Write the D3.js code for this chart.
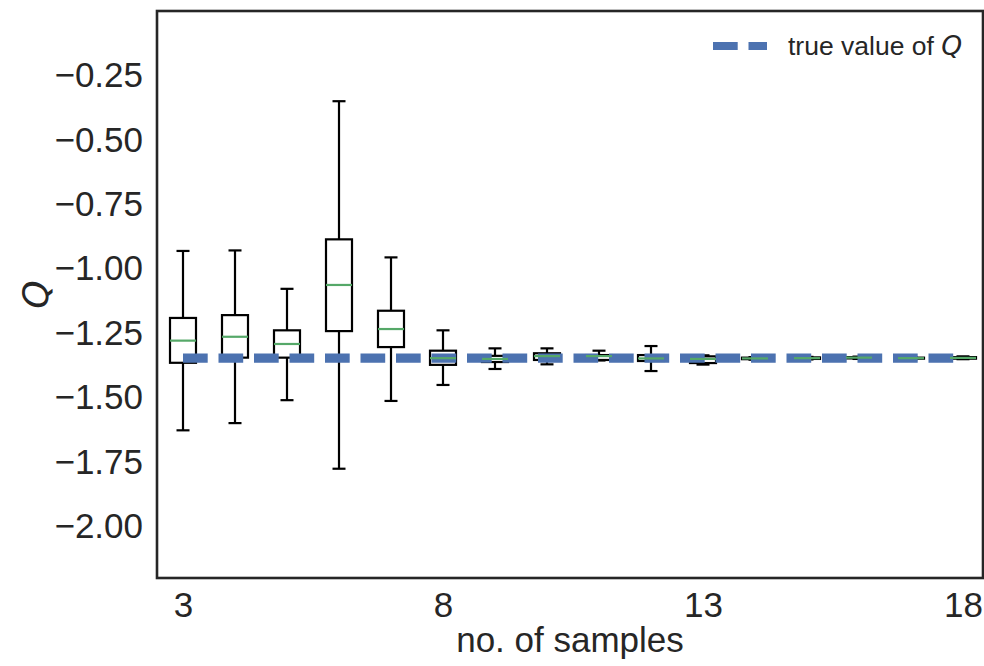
<!DOCTYPE html>
<html>
<head>
<meta charset="utf-8">
<script src="https://cdn.jsdelivr.net/npm/d3@7"></script>
<style>
  html, body { margin: 0; padding: 0; background: #ffffff; }
  svg { display: block; }
</style>
</head>
<body>
<svg id="chart" width="984" height="666"></svg>
<script>
// ---- data ----
const samples      = [3, 4, 5, 6, 7, 8, 9, 10, 11, 12, 13, 14, 15, 16, 17, 18];
const whiskerHigh  = [-0.931, -0.929, -1.078, -0.350, -0.956, -1.239, -1.309, -1.309, -1.318, -1.300, -1.336, -1.343, -1.342, -1.341, -1.343, -1.340];
const quartile3    = [-1.191, -1.180, -1.239, -0.886, -1.163, -1.318, -1.338, -1.328, -1.335, -1.335, -1.340, -1.345, -1.344, -1.343, -1.345, -1.343];
const medians      = [-1.279, -1.264, -1.292, -1.063, -1.234, -1.347, -1.350, -1.339, -1.339, -1.348, -1.350, -1.348, -1.347, -1.345, -1.347, -1.346];
const quartile1    = [-1.365, -1.345, -1.345, -1.242, -1.304, -1.373, -1.362, -1.354, -1.354, -1.358, -1.366, -1.351, -1.350, -1.348, -1.349, -1.349];
const whiskerLow   = [-1.627, -1.599, -1.510, -1.776, -1.513, -1.451, -1.389, -1.371, -1.356, -1.397, -1.372, -1.353, -1.352, -1.350, -1.351, -1.351];
const trueQ        = -1.347;
const trueLineX    = [3, 18];
const xTickValues  = [3, 8, 13, 18];
const yTickValues  = [-2.00, -1.75, -1.50, -1.25, -1.00, -0.75, -0.50, -0.25];
const xDomain      = [2.5, 18.5];
const yDomain      = [-2.2, 0];
const xLabel       = "no. of samples";
const yLabel       = "Q";
const legendLabel  = "true value of ";
const legendMath   = "Q";

// ---- layout ----
const svg = d3.select("#chart");
const plotLeft = 157, plotRight = 989, plotTop = 11, plotBottom = 578;
const frameRight = 983;

const x = d3.scaleLinear().domain(xDomain).range([plotLeft, plotRight]);
const y = d3.scaleLinear().domain(yDomain).range([plotBottom, plotTop]);

const textColor = "#262626";
const blue = "#4C72B0";
const green = "#55A868";
const tickFont = "'Liberation Sans', Arial, sans-serif";
const lw = 2.2;

const boxes = samples.map((s, i) => ({
  s, hi: whiskerHigh[i], q3: quartile3[i], med: medians[i], q1: quartile1[i], lo: whiskerLow[i]
}));

const boxHalf = 0.25;   // box width 0.5 units
const capHalf = 0.125;  // cap width 0.25 units

const g = svg.append("g");

// boxes (unfilled outlines)
g.selectAll("rect.box").data(boxes).enter().append("rect")
  .attr("class", "box")
  .attr("x", d => x(d.s - boxHalf))
  .attr("width", d => x(d.s + boxHalf) - x(d.s - boxHalf))
  .attr("y", d => y(d.q3))
  .attr("height", d => y(d.q1) - y(d.q3))
  .attr("fill", "none")
  .attr("stroke", "#000")
  .attr("stroke-width", lw);

// whiskers
g.selectAll("line.whiskHi").data(boxes).enter().append("line")
  .attr("x1", d => x(d.s)).attr("x2", d => x(d.s))
  .attr("y1", d => y(d.q3)).attr("y2", d => y(d.hi))
  .attr("stroke", "#000").attr("stroke-width", lw);
g.selectAll("line.whiskLo").data(boxes).enter().append("line")
  .attr("x1", d => x(d.s)).attr("x2", d => x(d.s))
  .attr("y1", d => y(d.q1)).attr("y2", d => y(d.lo))
  .attr("stroke", "#000").attr("stroke-width", lw);

// caps
g.selectAll("line.capHi").data(boxes).enter().append("line")
  .attr("x1", d => x(d.s - capHalf)).attr("x2", d => x(d.s + capHalf))
  .attr("y1", d => y(d.hi)).attr("y2", d => y(d.hi))
  .attr("stroke", "#000").attr("stroke-width", lw);
g.selectAll("line.capLo").data(boxes).enter().append("line")
  .attr("x1", d => x(d.s - capHalf)).attr("x2", d => x(d.s + capHalf))
  .attr("y1", d => y(d.lo)).attr("y2", d => y(d.lo))
  .attr("stroke", "#000").attr("stroke-width", lw);

// true value dashed line (above boxes, below medians)
g.append("line")
  .attr("x1", x(trueLineX[0])).attr("x2", x(trueLineX[1]))
  .attr("y1", y(trueQ)).attr("y2", y(trueQ))
  .attr("stroke", blue)
  .attr("stroke-width", 9.3)
  .attr("stroke-dasharray", "24.7,10.8")
  .attr("stroke-linecap", "butt");

// medians
g.selectAll("line.median").data(boxes).enter().append("line")
  .attr("x1", d => x(d.s - boxHalf)).attr("x2", d => x(d.s + boxHalf))
  .attr("y1", d => y(d.med)).attr("y2", d => y(d.med))
  .attr("stroke", green).attr("stroke-width", 2.2);

// frame
svg.append("rect")
  .attr("x", plotLeft).attr("y", plotTop)
  .attr("width", frameRight - plotLeft)
  .attr("height", plotBottom - plotTop)
  .attr("fill", "none")
  .attr("stroke", textColor)
  .attr("stroke-width", 2.6);

// axes (labels only, no tick marks)
const fmt = v => d3.format(".2f")(v).replace("-", "\u2212");
const yAxis = d3.axisLeft(y).tickValues(yTickValues).tickFormat(fmt).tickSize(0).tickPadding(14);
const yG = svg.append("g").attr("transform", `translate(${plotLeft},0)`).call(yAxis);
yG.select(".domain").remove();
yG.selectAll("text")
  .attr("fill", textColor)
  .style("font-family", tickFont)
  .style("font-size", "35px");

const xAxis = d3.axisBottom(x).tickValues(xTickValues).tickFormat(d3.format("d")).tickSize(0).tickPadding(14);
const xG = svg.append("g").attr("transform", `translate(0,${plotBottom})`).call(xAxis);
xG.select(".domain").remove();
xG.selectAll("text")
  .attr("fill", textColor)
  .style("font-family", tickFont)
  .style("font-size", "35px");

// axis labels
svg.append("text")
  .attr("x", (plotLeft + plotRight) / 2 - 3)
  .attr("y", 652)
  .attr("text-anchor", "middle")
  .attr("fill", textColor)
  .style("font-family", tickFont)
  .style("font-size", "35px")
  .text(xLabel);

svg.append("text")
  .attr("transform", `translate(48,${(plotTop + plotBottom) / 2}) rotate(-90)`)
  .attr("text-anchor", "middle")
  .attr("fill", textColor)
  .style("font-family", "'DejaVu Sans', sans-serif")
  .style("font-style", "italic")
  .style("font-size", "36px")
  .text(yLabel);

// legend
const legX = 713, legY = 46;
svg.append("line")
  .attr("x1", legX).attr("x2", legX + 54)
  .attr("y1", legY).attr("y2", legY)
  .attr("stroke", blue)
  .attr("stroke-width", 8)
  .attr("stroke-dasharray", "24.7,10.8");

const lt = svg.append("text")
  .attr("x", 788).attr("y", 55)
  .attr("fill", textColor)
  .style("font-family", tickFont)
  .style("font-size", "26.5px");
lt.append("tspan").text(legendLabel);
lt.append("tspan")
  .style("font-family", "'DejaVu Sans', sans-serif")
  .style("font-style", "italic")
  .text(legendMath);
</script>
</body>
</html>
